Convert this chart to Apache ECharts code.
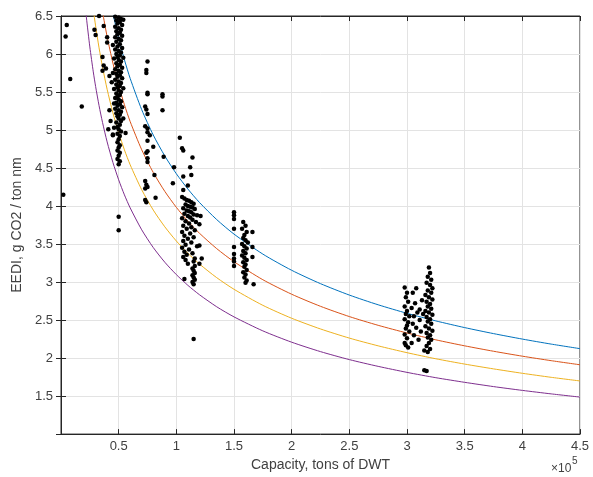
<!DOCTYPE html>
<html>
<head>
<meta charset="utf-8">
<script src="https://cdn.jsdelivr.net/npm/echarts@6/dist/echarts.min.js"></script>
<style>html,body{margin:0;padding:0;background:#fff}#c{width:593px;height:477px}</style>
</head>
<body>
<div id="c"></div>
<script>
// Capacity in units of 10^5 tons DWT
const curveDwt = [0.20,0.22,0.25,0.28,0.30,0.33,0.36,0.40,0.45,0.50,0.55,0.60,0.70,0.80,0.90,1.00,1.10,1.20,1.35,1.50,1.75,2.00,2.25,2.50,2.75,3.00,3.25,3.50,3.75,4.00,4.25,4.50];
const refLine  = [9.705,9.264,8.704,8.236,7.963,7.601,7.285,6.920,6.534,6.207,5.924,5.678,5.267,4.934,4.659,4.425,4.224,4.048,3.822,3.631,3.368,3.155,2.979,2.829,2.701,2.589,2.489,2.401,2.322,2.250,2.184,2.124];
const phase1   = [8.735,8.338,7.834,7.412,7.167,6.841,6.557,6.228,5.881,5.586,5.332,5.110,4.740,4.441,4.193,3.983,3.802,3.643,3.440,3.268,3.031,2.840,2.681,2.546,2.431,2.330,2.240,2.161,2.090,2.025,1.966,1.912];
const phase2   = [7.764,7.411,6.963,6.589,6.370,6.081,5.828,5.536,5.227,4.966,4.739,4.542,4.214,3.947,3.727,3.540,3.379,3.238,3.058,2.905,2.694,2.524,2.383,2.263,2.161,2.071,1.991,1.921,1.858,1.800,1.747,1.699];
const phase3   = [6.794,6.485,6.093,5.765,5.574,5.321,5.100,4.844,4.574,4.345,4.147,3.975,3.687,3.454,3.261,3.098,2.957,2.834,2.675,2.542,2.358,2.209,2.085,1.980,1.891,1.812,1.742,1.681,1.625,1.575,1.529,1.487];

const shipsSmall = [[0.05,6.38],[0.04,6.23],[0.08,5.67],[0.18,5.31],[0.02,4.15],
 [0.33,6.50],[0.37,6.37],[0.29,6.32],[0.30,6.25],[0.40,6.22],[0.40,6.15],[0.36,5.96],[0.37,5.85],[0.39,5.81],
 [0.36,5.78],[0.42,5.71],[0.44,5.63],[0.42,5.26],[0.43,5.12],[0.41,5.01],[0.45,4.93],[0.56,4.96]];
const shipsHandy = [[0.47,6.49],[0.50,6.48],[0.52,6.46],[0.48,6.44],[0.51,6.42],[0.49,6.40],[0.53,6.38],[0.47,6.36],[0.50,6.34],[0.52,6.32],
 [0.48,6.30],[0.51,6.28],[0.49,6.26],[0.53,6.24],[0.47,6.22],[0.50,6.20],[0.52,6.18],[0.48,6.16],[0.51,6.13],[0.49,6.10],
 [0.53,6.08],[0.47,6.06],[0.50,6.04],[0.52,6.02],[0.48,6.00],[0.51,5.98],[0.49,5.96],[0.46,5.94],[0.50,5.92],[0.52,5.90],
 [0.48,5.88],[0.51,5.86],[0.49,5.84],[0.53,5.82],[0.47,5.80],[0.50,5.78],[0.52,5.76],[0.48,5.74],[0.51,5.72],[0.49,5.70],
 [0.53,5.68],[0.47,5.66],[0.50,5.64],[0.52,5.62],[0.48,5.60],[0.51,5.58],[0.49,5.56],[0.46,5.54],[0.50,5.52],[0.52,5.50],
 [0.48,5.48],[0.51,5.46],[0.49,5.44],[0.47,5.42],[0.50,5.40],[0.52,5.38],[0.48,5.36],[0.51,5.34],[0.49,5.32],[0.53,5.30],
 [0.47,5.28],[0.50,5.26],[0.52,5.24],[0.48,5.22],[0.51,5.20],[0.49,5.18],[0.50,5.15],[0.52,5.12],[0.48,5.10],[0.51,5.07],
 [0.49,5.04],[0.50,5.01],[0.52,4.98],[0.49,4.95],[0.51,4.92],[0.50,4.88],[0.49,4.84],[0.51,4.80],[0.50,4.77],[0.49,4.73],
 [0.51,4.70],[0.50,4.66],[0.49,4.62],[0.51,4.59],[0.50,4.55],[0.50,3.86],[0.50,3.68],
 [0.54,6.45],[0.45,6.12],[0.54,5.95],[0.45,5.75],[0.54,5.55],[0.46,5.35],[0.54,5.15],[0.45,4.94],[0.46,5.03]];
const shipsPanamax = [[0.75,5.90],[0.74,5.79],[0.74,5.75],[0.75,5.49],[0.75,5.47],[0.73,5.31],[0.74,5.27],[0.75,5.21],
 [0.73,5.05],[0.75,5.02],[0.75,4.97],[0.77,4.93],[0.75,4.86],[0.75,4.72],[0.74,4.70],[0.75,4.63],[0.75,4.58],
 [0.73,4.33],[0.74,4.28],[0.75,4.25],[0.73,4.23],[0.73,4.08],[0.74,4.05],[0.81,4.41],[0.80,4.78],
 [0.88,5.47],[0.88,5.44],[0.88,5.26],[0.82,4.11],[0.89,4.65]];
const shipsAframax = [[1.03,4.90],[1.05,4.76],[1.06,4.73],[1.14,4.64],[1.12,4.51],[1.13,4.41],[0.97,4.30],[0.98,4.51],
 [1.06,4.39],[1.06,4.21],[1.10,4.27],
 [1.05,4.12],[1.07,4.10],[1.09,4.08],[1.11,4.07],[1.13,4.05],[1.15,4.03],[1.08,4.02],[1.10,4.00],[1.12,3.99],[1.14,3.98],
 [1.06,3.97],[1.16,3.96],[1.09,3.94],[1.11,3.93],[1.13,3.92],[1.07,3.90],[1.15,3.89],[1.18,3.88],[1.10,3.87],[1.12,3.85],
 [1.05,3.84],[1.14,3.82],[1.08,3.80],[1.17,3.79],[1.11,3.77],[1.20,3.76],[1.06,3.74],[1.13,3.72],[1.09,3.70],[1.16,3.68],
 [1.05,3.66],[1.12,3.64],[1.07,3.61],[1.15,3.59],[1.10,3.57],[1.06,3.54],[1.13,3.52],[1.08,3.49],[1.18,3.47],[1.05,3.45],
 [1.11,3.43],[1.07,3.40],[1.14,3.38],[1.09,3.36],[1.06,3.33],[1.16,3.31],[1.08,3.29],[1.15,3.27],[1.10,3.24],[1.16,3.21],
 [1.14,3.18],[1.15,3.15],[1.16,3.12],[1.14,3.09],[1.15,3.06],[1.16,3.03],[1.14,3.00],[1.15,2.97],[1.07,3.04],[1.20,3.24],
 [1.22,3.31],[1.20,3.48],[1.21,3.87],[1.15,2.25]];
const shipsSuezmax = [[1.50,3.92],[1.50,3.88],[1.50,3.83],[1.50,3.70],[1.50,3.46],[1.50,3.37],[1.50,3.31],[1.50,3.27],[1.50,3.21],
 [1.58,3.79],[1.60,3.74],[1.57,3.70],[1.61,3.66],[1.59,3.62],[1.58,3.58],[1.60,3.55],[1.62,3.52],[1.57,3.50],[1.59,3.47],
 [1.61,3.44],[1.58,3.41],[1.60,3.38],[1.57,3.35],[1.59,3.32],[1.61,3.29],[1.58,3.26],[1.60,3.23],[1.59,3.20],[1.61,3.16],
 [1.58,3.13],[1.60,3.10],[1.59,3.06],[1.61,3.02],[1.60,2.99],[1.66,3.66],[1.66,3.46],[1.66,3.33],[1.67,2.97]];
const shipsVlcc = [[2.98,2.93],[3.00,2.86],[2.99,2.80],[3.01,2.74],[2.98,2.68],[3.00,2.62],[2.99,2.58],[3.02,2.55],[2.98,2.51],
 [3.01,2.47],[3.00,2.43],[2.99,2.39],[3.02,2.35],[2.98,2.31],[3.00,2.26],[2.98,2.20],[2.99,2.17],[3.01,2.14],
 [3.05,2.86],[3.07,2.72],[3.04,2.66],[3.09,2.60],[3.06,2.55],[3.11,2.50],[3.05,2.45],[3.08,2.40],[3.12,2.35],[3.06,2.30],
 [3.10,2.24],[3.04,2.20],[3.13,2.76],[3.11,2.64],[3.08,2.92],[3.14,2.58],
 [3.19,3.19],[3.20,3.12],[3.18,3.07],[3.21,3.03],[3.17,2.99],[3.20,2.96],[3.22,2.92],[3.18,2.89],[3.21,2.86],[3.16,2.83],
 [3.19,2.80],[3.22,2.77],[3.17,2.74],[3.20,2.71],[3.18,2.68],[3.21,2.65],[3.16,2.62],[3.19,2.60],[3.22,2.57],[3.17,2.54],
 [3.20,2.51],[3.18,2.48],[3.21,2.45],[3.16,2.42],[3.19,2.39],[3.22,2.36],[3.17,2.33],[3.20,2.30],[3.18,2.27],[3.21,2.24],
 [3.19,2.20],[3.17,2.16],[3.20,2.12],[3.18,2.08],[3.15,2.10],[3.15,1.84],[3.17,1.83]];

const xLabelTitle = 'Capacity, tons of DWT';
const yLabelTitle = 'EEDI, g CO2 / ton nm';

const ships = [].concat(shipsSmall, shipsHandy, shipsPanamax, shipsAframax, shipsSuezmax, shipsVlcc);
const pairs = ys => curveDwt.map((x, i) => [x, ys[i]]);

const txt = '#404040';
const font = 'Liberation Sans, Arial, Helvetica, sans-serif';
const chart = echarts.init(document.getElementById('c'), null, {renderer: 'canvas'});
const lineS = (data, color) => ({
  type: 'line', data: pairs(data), smooth: 0.25, showSymbol: false, symbol: 'none',
  clip: true, lineStyle: {color: color, width: 1}, itemStyle: {color: color}, z: 2, silent: true
});
chart.setOption({
  animation: false,
  backgroundColor: '#fff',
  grid: {left: 61, right: 13, top: 16, bottom: 37, show: true, borderColor: '#262626', borderWidth: 1},
  xAxis: [{
    type: 'value', min: 0, max: 4.5, interval: 0.5,
    name: xLabelTitle, nameLocation: 'middle', nameGap: 21,
    nameTextStyle: {color: txt, fontSize: 14, fontFamily: font},
    axisLine: {show: true, onZero: false, lineStyle: {color: '#262626', width: 1}},
    axisTick: {show: true, inside: true, length: 5, lineStyle: {color: '#262626'}},
    axisLabel: {color: txt, fontSize: 13, fontFamily: font, margin: 6,
      formatter: v => v === 0 ? '' : String(+v.toFixed(2))},
    splitLine: {show: true, lineStyle: {color: '#e3e3e3', width: 1}}
  }, {
    type: 'value', min: 0, max: 4.5, interval: 0.5, position: 'top',
    axisLine: {show: true, lineStyle: {color: '#262626'}},
    axisTick: {show: true, inside: true, length: 5, lineStyle: {color: '#262626'}},
    axisLabel: {show: false}, splitLine: {show: false}
  }],
  yAxis: [{
    type: 'value', min: 1, max: 6.5, interval: 0.5,
    name: yLabelTitle, nameLocation: 'middle', nameGap: 36, nameRotate: 90,
    nameTextStyle: {color: txt, fontSize: 14, fontFamily: font},
    axisLine: {show: true, onZero: false, lineStyle: {color: '#262626', width: 1}},
    axisTick: {show: true, inside: true, length: 5, lineStyle: {color: '#262626'}},
    axisLabel: {color: txt, fontSize: 13, fontFamily: font, margin: 8,
      formatter: v => v === 1 ? '' : String(+v.toFixed(2))},
    splitLine: {show: true, lineStyle: {color: '#e3e3e3', width: 1}}
  }, {
    type: 'value', min: 1, max: 6.5, interval: 0.5, position: 'right',
    axisLine: {show: true, lineStyle: {color: '#262626'}},
    axisTick: {show: true, inside: true, length: 5, lineStyle: {color: '#262626'}},
    axisLabel: {show: false}, splitLine: {show: false}
  }],
  graphic: [
    {type: 'text', left: 551, top: 463, style: {text: '×10', fill: txt, font: '12px ' + font}},
    {type: 'text', left: 572, top: 456, style: {text: '5', fill: txt, font: '10px ' + font}}
  ],
  series: [
    lineS(refLine, '#0072BD'),
    lineS(phase1, '#D95319'),
    lineS(phase2, '#EDB120'),
    lineS(phase3, '#7E2F8E'),
    {type: 'scatter', data: ships, symbol: 'circle', symbolSize: 4.5, clip: true,
     itemStyle: {color: '#000', opacity: 1}, z: 3, silent: true}
  ]
});
</script>
</body>
</html>
